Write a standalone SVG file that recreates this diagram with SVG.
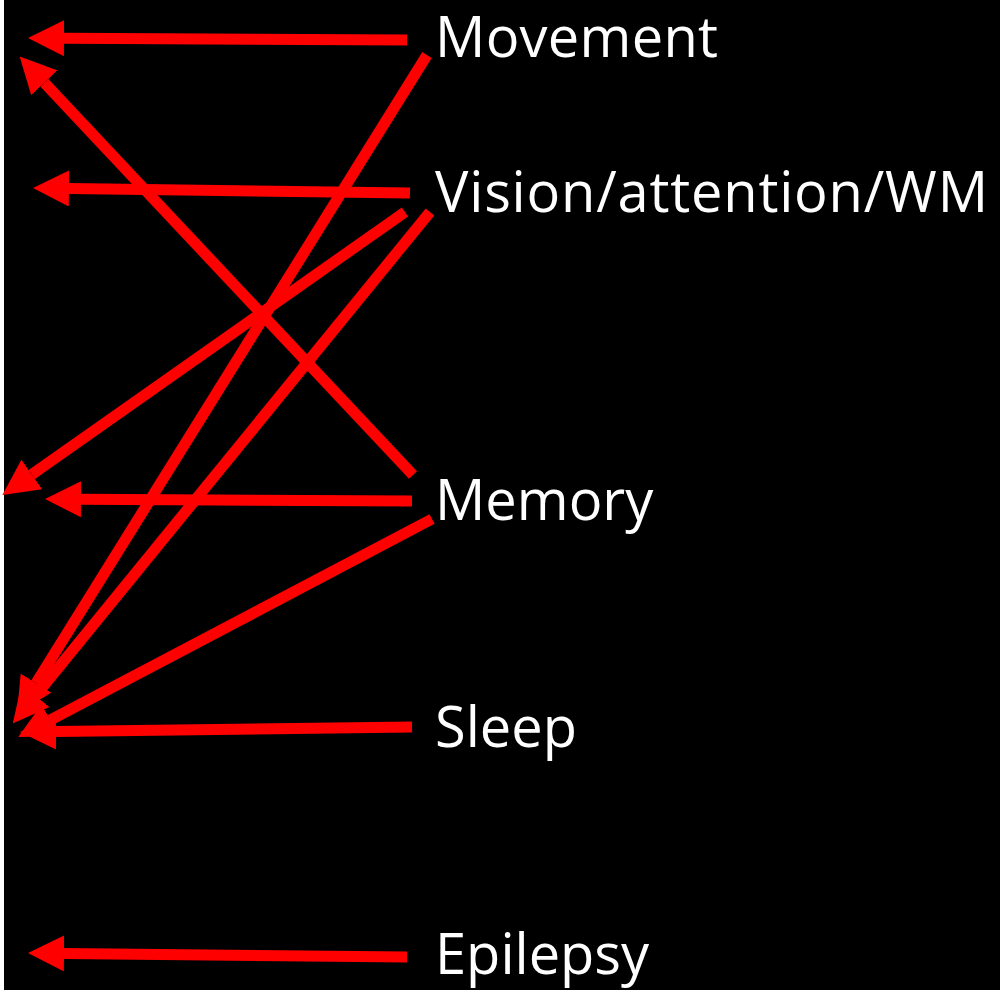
<svg xmlns="http://www.w3.org/2000/svg" width="1000" height="995" viewBox="0 0 1000 995">
<style>
.lbl{font-family:"Open Sans","Noto Sans",sans-serif;font-size:56px;fill:#fff}
.arr{stroke:#f00;stroke-width:11;fill:none;marker-end:url(#ah)}
</style>
<defs>
<marker id="ah" markerUnits="userSpaceOnUse" markerWidth="36" markerHeight="36" refX="0" refY="18" orient="auto" viewBox="0 0 36 36">
<path d="M0,0 L36,18 L0,36 Z" fill="#f00"/>
</marker>
</defs>
<rect x="0" y="0" width="1000" height="995" fill="#fff"/>
<rect x="4" y="0" width="996" height="990" fill="#000"/>
<g id="connectors">
<line class="arr" x1="407" y1="40" x2="64" y2="38.2"/>
<line class="arr" x1="413" y1="475" x2="44.3" y2="82.8"/>
<line class="arr" x1="410" y1="193" x2="69" y2="188.5"/>
<line class="arr" x1="427" y1="55" x2="36" y2="683.1"/>
<line class="arr" x1="405" y1="212" x2="31.8" y2="474.4"/>
<line class="arr" x1="430" y1="212" x2="35.5" y2="695.7"/>
<line class="arr" x1="412" y1="501" x2="81" y2="499.2"/>
<line class="arr" x1="432" y1="519" x2="50.1" y2="720.2"/>
<line class="arr" x1="412" y1="727" x2="56" y2="731.6"/>
<line class="arr" x1="407" y1="957" x2="64" y2="953.4"/>
</g>
<g id="movement"><text class="lbl" x="435" y="57" textLength="283">Movement</text></g>
<g id="vision"><text class="lbl" x="435" y="212" textLength="553">Vision/attention/WM</text></g>
<g id="memory"><text class="lbl" x="435" y="520">Memory</text></g>
<g id="sleep"><text class="lbl" x="435" y="747">Sleep</text></g>
<g id="epilepsy"><text class="lbl" x="435" y="974">Epilepsy</text></g>
</svg>
